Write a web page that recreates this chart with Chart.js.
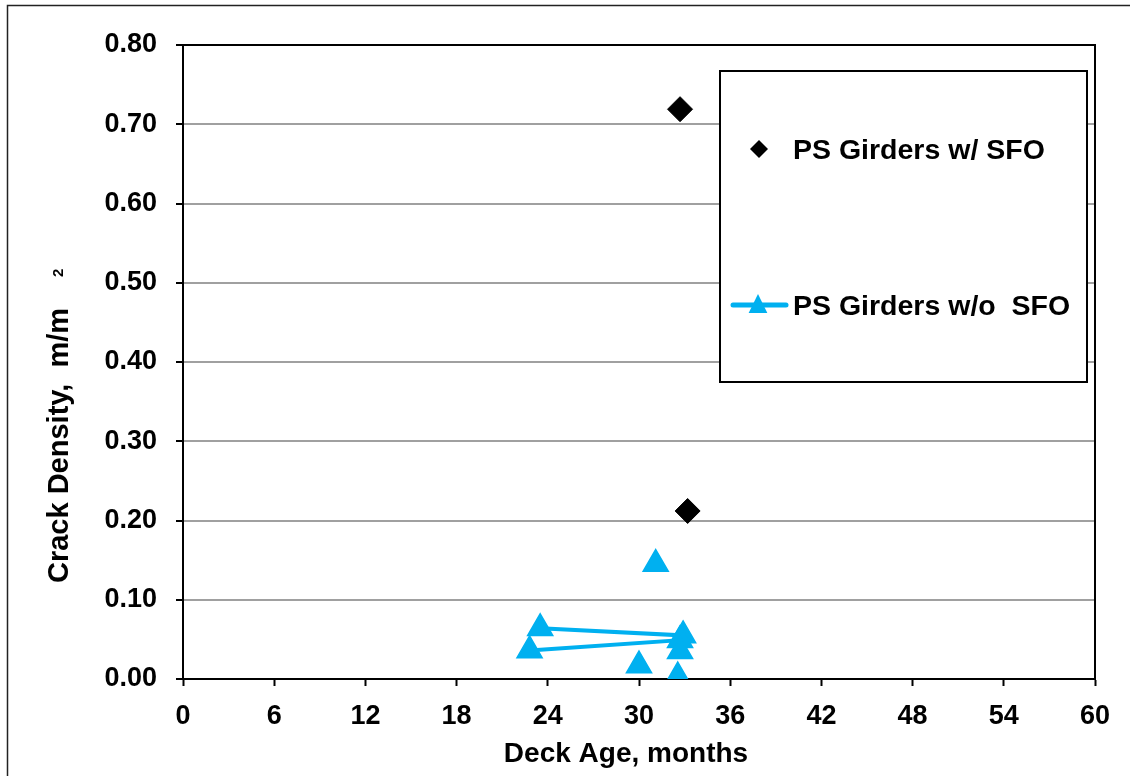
<!DOCTYPE html>
<html>
<head>
<meta charset="utf-8">
<title>Crack Density vs Deck Age</title>
<style>
  html, body { margin: 0; padding: 0; background: #ffffff; }
  #wrap { width: 1130px; height: 776px; }
</style>
<script src="https://cdn.jsdelivr.net/npm/chart.js@4.4.1/dist/chart.umd.min.js"></script>
</head>
<body>
<div id="wrap"><canvas id="chart" width="1130" height="776"></canvas></div>
<script>
// Deck age (months) and crack density (m/m²) per bridge deck
const seriesNames = ['PS Girders w/ SFO', 'PS Girders w/o  SFO'];
const xTitle = 'Deck Age, months';
const yTitle = 'Crack Density,  m/m';
const yTitleExponent = '2';

const sfoAge     = [32.7, 33.2];
const sfoDensity = [0.719, 0.212];

// null entries break the connecting line between survey groups
const noSfoAge     = [23.5, 32.9, 32.7, 22.8, null, 31.1, null, 30.0, null, 32.55, null, 32.7];
const noSfoDensity = [0.064, 0.055, 0.049, 0.036, null, 0.145, null, 0.017, null, 0.003, null, 0.035];

const xTickValues = [0, 6, 12, 18, 24, 30, 36, 42, 48, 54, 60];
const yTickValues = [0, 0.1, 0.2, 0.3, 0.4, 0.5, 0.6, 0.7, 0.8];

const FONT = "'Liberation Sans', Arial, sans-serif";
const BLUE = '#00B0F0';

function toPoints(xs, ys) {
  return xs.map((x, i) => ({ x: x, y: ys[i] }));
}

// Outer chart frame, plus top/right border of the plot area
const framePlugin = {
  id: 'frame',
  beforeDraw(chart) {
    const ctx = chart.ctx;
    ctx.save();
    ctx.fillStyle = '#ffffff';
    ctx.fillRect(0, 0, chart.width, chart.height);
    ctx.strokeStyle = '#222222';
    ctx.lineWidth = 1.5;
    ctx.strokeRect(7.5, 5.5, chart.width + 20, chart.height + 20);
    ctx.restore();
  },
  beforeDatasetsDraw(chart) {
    const { ctx, chartArea: a } = chart;
    ctx.save();
    ctx.strokeStyle = '#000000';
    ctx.lineWidth = 2;
    ctx.beginPath();
    ctx.moveTo(a.left, a.top);
    ctx.lineTo(a.right, a.top);
    ctx.lineTo(a.right, a.bottom);
    ctx.stroke();
    ctx.restore();
  }
};

// Axis titles, the vertical one carrying a raised exponent
const axisTitlePlugin = {
  id: 'axisTitles',
  afterDraw(chart) {
    const ctx = chart.ctx;
    ctx.save();
    ctx.fillStyle = '#000000';
    ctx.textBaseline = 'alphabetic';

    ctx.font = 'bold 28px ' + FONT;
    ctx.textAlign = 'center';
    ctx.fillText(xTitle, 626, 762);

    ctx.translate(68, 583);
    ctx.rotate(-Math.PI / 2);
    ctx.textAlign = 'left';
    ctx.font = 'bold 29px ' + FONT;
    ctx.fillText(yTitle, 0, 0);
    ctx.font = 'bold 15px ' + FONT;
    ctx.fillText(yTitleExponent, 306, -5);
    ctx.restore();
  }
};

// Boxed legend inside the plot area
const boxLegendPlugin = {
  id: 'boxLegend',
  afterDraw(chart) {
    const ctx = chart.ctx;
    const box = { x: 720, y: 71, w: 367, h: 311 };
    ctx.save();
    ctx.fillStyle = '#ffffff';
    ctx.fillRect(box.x, box.y, box.w, box.h);
    ctx.strokeStyle = '#000000';
    ctx.lineWidth = 2;
    ctx.strokeRect(box.x, box.y, box.w, box.h);

    ctx.font = 'bold 28.5px ' + FONT;
    ctx.textBaseline = 'middle';
    ctx.textAlign = 'left';

    // diamond entry
    const d = chart.data.datasets[0];
    let cx = 759, cy = 149, r = 9;
    ctx.fillStyle = d.pointBackgroundColor;
    ctx.beginPath();
    ctx.moveTo(cx, cy - r);
    ctx.lineTo(cx + r, cy);
    ctx.lineTo(cx, cy + r);
    ctx.lineTo(cx - r, cy);
    ctx.closePath();
    ctx.fill();
    ctx.fillStyle = '#000000';
    ctx.fillText(d.label, 793, 151);

    // line + triangle entry
    const t = chart.data.datasets[1];
    cy = 305;
    ctx.strokeStyle = t.borderColor;
    ctx.lineWidth = 5;
    ctx.lineCap = 'round';
    ctx.beginPath();
    ctx.moveTo(733, cy);
    ctx.lineTo(786, cy);
    ctx.stroke();
    ctx.fillStyle = t.pointBackgroundColor;
    cx = 758; r = 11;
    ctx.beginPath();
    ctx.moveTo(cx, cy - r);
    ctx.lineTo(cx + r * 0.85, cy + r * 0.72);
    ctx.lineTo(cx - r * 0.85, cy + r * 0.72);
    ctx.closePath();
    ctx.fill();
    ctx.fillStyle = '#000000';
    ctx.fillText(t.label, 793, 307);
    ctx.restore();
  }
};

new Chart(document.getElementById('chart'), {
  type: 'scatter',
  data: {
    datasets: [
      {
        label: seriesNames[0],
        data: toPoints(sfoAge, sfoDensity),
        pointStyle: 'rectRot',
        pointRadius: 12.5,
        pointHoverRadius: 12.5,
        pointBackgroundColor: '#000000',
        pointBorderColor: '#000000',
        pointBorderWidth: 1,
        showLine: false
      },
      {
        label: seriesNames[1],
        data: toPoints(noSfoAge, noSfoDensity),
        showLine: true,
        spanGaps: false,
        borderColor: BLUE,
        borderWidth: 4,
        pointStyle: 'triangle',
        pointRadius: 14.5,
        pointHoverRadius: 14.5,
        pointBackgroundColor: BLUE,
        pointBorderColor: BLUE,
        pointBorderWidth: 1.5
      }
    ]
  },
  options: {
    responsive: false,
    animation: false,
    devicePixelRatio: 1,
    layout: { padding: { left: 0, top: 45, right: 35, bottom: 0 } },
    plugins: {
      legend: { display: false },
      tooltip: { enabled: false }
    },
    scales: {
      x: {
        type: 'linear',
        min: 0,
        max: 60,
        afterFit(scale) { scale.height = 97; },
        afterBuildTicks(scale) { scale.ticks = xTickValues.map(v => ({ value: v })); },
        ticks: {
          color: '#000000',
          font: { family: FONT, size: 27, weight: 'bold' },
          padding: 14,
          maxRotation: 0,
          callback: v => String(v)
        },
        grid: {
          drawOnChartArea: false,
          drawTicks: true,
          tickLength: 7,
          tickWidth: 2,
          tickColor: '#000000'
        },
        border: { color: '#000000', width: 2 },
        title: { display: false }
      },
      y: {
        type: 'linear',
        min: 0,
        max: 0.8,
        afterFit(scale) { scale.width = 183; },
        afterBuildTicks(scale) { scale.ticks = yTickValues.map(v => ({ value: v })); },
        ticks: {
          color: '#000000',
          font: { family: FONT, size: 27, weight: 'bold' },
          padding: 19,
          callback: v => Number(v).toFixed(2)
        },
        grid: {
          color: '#a0a0a0',
          lineWidth: 2,
          drawTicks: true,
          tickLength: 7,
          tickWidth: 2,
          tickColor: '#000000'
        },
        border: { color: '#000000', width: 2 },
        title: { display: false }
      }
    }
  },
  plugins: [framePlugin, axisTitlePlugin, boxLegendPlugin]
});
</script>
</body>
</html>
